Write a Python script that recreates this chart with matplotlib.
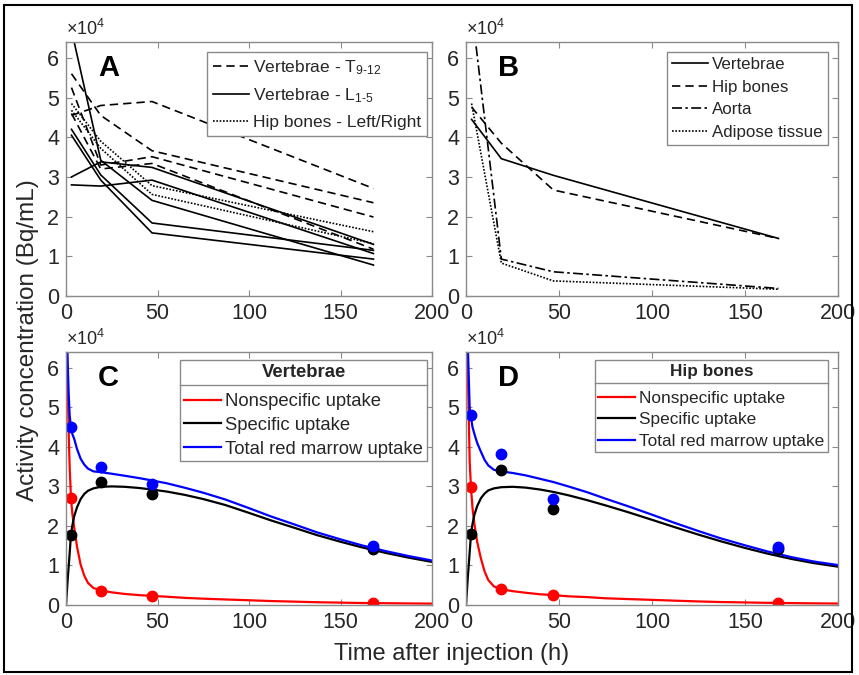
import matplotlib
matplotlib.use('Agg')
import matplotlib.pyplot as plt
from matplotlib.lines import Line2D
from matplotlib.patches import Rectangle

plt.rcParams['font.family'] = ['Liberation Sans', 'DejaVu Sans']
plt.rcParams['mathtext.fontset'] = 'custom'
plt.rcParams['mathtext.rm'] = 'Liberation Sans'
plt.rcParams['mathtext.it'] = 'Liberation Sans:italic'
plt.rcParams['mathtext.bf'] = 'Liberation Sans:bold'

# ---------------- data (activity in units of 1e4 Bq/mL) ----------------
t_meas = [3, 19, 47, 168]

# Panel A
A_T9_12 = [
    [4.55, 4.80, 4.90, 2.71],
    [5.60, 4.55, 3.66, 2.35],
    [5.25, 3.30, 3.51, 1.99],
    [4.60, 3.20, 3.34, 1.18],
]
A_L1_5 = [
    [3.00, 3.38, 3.24, 1.30],
    [2.80, 2.77, 2.92, 1.07],
    [6.70, 3.42, 2.41, 0.78],
    [4.20, 3.05, 1.84, 1.15],
    [4.05, 2.92, 1.59, 0.93],
]
A_hip = [
    [4.85, 3.90, 2.78, 1.62],
    [4.68, 3.72, 2.56, 1.32],
]
legend_A = [r'Vertebrae - T$_{\mathregular{9\text{-}12}}$',
            r'Vertebrae - L$_{\mathregular{1\text{-}5}}$',
            'Hip bones - Left/Right']

# Panel B
B_vertebrae = [4.45, 3.46, 3.04, 1.45]
B_hip = [4.76, 3.85, 2.67, 1.45]
B_aorta = [7.25, 0.93, 0.61, 0.19]
B_adipose = [4.85, 0.83, 0.38, 0.17]
legend_B = ['Vertebrae', 'Hip bones', 'Aorta', 'Adipose tissue']

# Panels C and D: fitted curves (read at these times) and measured points
t_fit = [0, 0.5, 1, 1.5, 2, 2.7, 3.5, 4.5, 6, 8, 10, 12, 15, 19, 25, 32, 40, 47,
         55, 65, 75, 87, 100, 112, 125, 137, 150, 162, 175, 187, 200]
t_pts = [2.7, 19, 47, 168]

C_nonspec = [8.5, 6.5, 5.3, 4.3, 3.5, 2.71, 2.3, 1.95, 1.48, 1.02, 0.74, 0.56, 0.43, 0.37,
             0.32, 0.28, 0.25, 0.23, 0.21, 0.18, 0.16, 0.14, 0.12, 0.10, 0.085, 0.07,
             0.06, 0.05, 0.045, 0.04, 0.035]
C_spec = [0, 0.35, 0.7, 1.0, 1.3, 1.78, 2.02, 2.25, 2.47, 2.68, 2.81, 2.89, 2.95, 2.99,
          3.0, 2.99, 2.96, 2.92, 2.87, 2.785, 2.68, 2.53, 2.33, 2.14, 1.95, 1.77, 1.6,
          1.455, 1.315, 1.2, 1.09]
C_total = [8.5, 6.85, 6.0, 5.3, 4.8, 4.49, 4.32, 4.2, 3.95, 3.7, 3.55, 3.45, 3.38, 3.36,
           3.32, 3.27, 3.21, 3.15, 3.08, 2.965, 2.84, 2.67, 2.45, 2.24, 2.035, 1.84, 1.66,
           1.505, 1.36, 1.24, 1.125]
C_pts_nonspec = [2.71, 0.36, 0.23, 0.04]
C_pts_spec = [1.78, 3.11, 2.82, 1.42]
C_pts_total = [4.50, 3.49, 3.05, 1.49]

D_nonspec = [9.0, 7.0, 5.8, 4.7, 3.6, 2.95, 2.45, 2.05, 1.6, 1.18, 0.85, 0.63, 0.47, 0.40,
             0.35, 0.31, 0.27, 0.25, 0.22, 0.20, 0.17, 0.15, 0.13, 0.11, 0.09, 0.075,
             0.065, 0.055, 0.048, 0.042, 0.037]
D_spec = [0, 0.36, 0.72, 1.03, 1.35, 1.79, 2.05, 2.28, 2.5, 2.7, 2.82, 2.9, 2.95, 2.98,
          2.99, 2.97, 2.92, 2.86, 2.776, 2.654, 2.52, 2.35, 2.155, 1.972, 1.78, 1.612, 1.443,
          1.301, 1.165, 1.06, 0.97]
D_total = [9.0, 7.36, 6.52, 5.73, 4.95, 4.74, 4.5, 4.33, 4.1, 3.88, 3.67, 3.53, 3.42, 3.38,
           3.34, 3.28, 3.19, 3.11, 3.0, 2.855, 2.69, 2.5, 2.285, 2.08, 1.87, 1.685, 1.51,
           1.355, 1.21, 1.10, 1.01]
D_pts_nonspec = [2.99, 0.40, 0.25, 0.04]
D_pts_spec = [1.79, 3.41, 2.44, 1.41]
D_pts_total = [4.80, 3.81, 2.69, 1.47]

legend_CD = ['Nonspecific uptake', 'Specific uptake', 'Total red marrow uptake']
titles_CD = ['Vertebrae', 'Hip bones']
panel_letters = ['A', 'B', 'C', 'D']

# ---------------- style ----------------
W, H = 859, 675
TXT = '#262626'
SPINE = '#8a8a8a'
TICK_FS = 15.5

fig = plt.figure(figsize=(W / 100, H / 100), dpi=100)


def px_axes(left, top, right, bottom):
    return fig.add_axes([left / W, 1 - bottom / H, (right - left) / W, (bottom - top) / H])


axA = px_axes(66, 42, 432, 296)
axB = px_axes(466, 42, 838, 296)
axC = px_axes(66, 352, 432, 605)
axD = px_axes(466, 352, 838, 605)
axes = [axA, axB, axC, axD]

for ax, letter in zip(axes, panel_letters):
    ax.set_xlim(0, 200)
    ax.set_ylim(0, 6.4)
    ax.set_xticks([0, 50, 100, 150, 200])
    ax.set_yticks(range(7))
    ax.tick_params(direction='in', length=4, width=0.8, color=SPINE, labelcolor=TXT,
                   labelsize=TICK_FS, top=True, right=True, pad=5)
    for s in ax.spines.values():
        s.set_color(SPINE)
        s.set_linewidth(1.0)
    ax.text(0.0, 1.012, '×10$^{4}$', transform=ax.transAxes, ha='left', va='bottom',
            fontsize=13, color=TXT)
    ax.text(0.087, 0.865, letter, transform=ax.transAxes, ha='left', va='baseline',
            fontsize=21, fontweight='bold', color='k')

lw_ab = 1.2
# Panel A
hA = []
for i, y in enumerate(A_T9_12):
    l, = axA.plot(t_meas, y, color='k', ls=(0, (5, 3)), lw=lw_ab)
    if i == 0:
        hA.append(l)
for i, y in enumerate(A_L1_5):
    l, = axA.plot(t_meas, y, color='k', ls='-', lw=lw_ab)
    if i == 0:
        hA.append(l)
for i, y in enumerate(A_hip):
    l, = axA.plot(t_meas, y, color='k', ls=(0, (1, 1)), lw=lw_ab)
    if i == 0:
        hA.append(l)

# Panel B
hB = []
hB.append(axB.plot(t_meas, B_vertebrae, color='k', ls='-', lw=lw_ab)[0])
hB.append(axB.plot(t_meas, B_hip, color='k', ls=(0, (5, 3)), lw=lw_ab)[0])
hB.append(axB.plot(t_meas, B_aorta, color='k', ls=(0, (6, 2, 1.5, 2)), lw=lw_ab)[0])
hB.append(axB.plot(t_meas, B_adipose, color='k', ls=(0, (1, 1)), lw=lw_ab)[0])


def make_legend(ax, handles, labels, anchor, fs, ls, hl, title=None, bp=0.2):
    kw = dict(loc='upper right', bbox_to_anchor=anchor, fancybox=False, edgecolor=SPINE,
              framealpha=1, fontsize=fs, borderpad=bp, handlelength=hl,
              handletextpad=0.23, labelspacing=ls, borderaxespad=0)
    if title is not None:
        kw['title'] = title
        kw['title_fontproperties'] = {'weight': 'bold', 'size': fs}
    leg = ax.legend(handles, labels, **kw)
    leg.get_frame().set_linewidth(1.0)
    for tx in leg.get_texts():
        tx.set_color(TXT)
    if title is not None:
        leg.get_title().set_color(TXT)
        leg._legend_box.sep = 9
    return leg


make_legend(axA, hA, legend_A, (0.986, 0.961), 12.5, 0.55, 2.07, bp=0.35)
make_legend(axB, hB, legend_B, (0.973, 0.961), 12.2, 0.45, 2.13, bp=0.3)

# Panels C, D
RED, BLK, BLU = '#ff0000', '#000000', '#0000ff'
lw_cd = 1.6
ms = 7.5
legs_cd = []
for ax, title, ns, sp, tot, pns, psp, ptot, anchor_x, fs in [
        (axC, titles_CD[0], C_nonspec, C_spec, C_total, C_pts_nonspec, C_pts_spec, C_pts_total, 0.986, 13.3),
        (axD, titles_CD[1], D_nonspec, D_spec, D_total, D_pts_nonspec, D_pts_spec, D_pts_total, 0.973, 12.4)]:
    l1, = ax.plot(t_fit, ns, color=RED, lw=lw_cd)
    l2, = ax.plot(t_fit, sp, color=BLK, lw=lw_cd)
    l3, = ax.plot(t_fit, tot, color=BLU, lw=lw_cd)
    ax.plot(t_pts, pns, 'o', color=RED, ms=ms, mec=RED)
    ax.plot(t_pts, psp, 'o', color=BLK, ms=ms, mec=BLK)
    ax.plot(t_pts, ptot, 'o', color=BLU, ms=ms, mec=BLU)
    leg = make_legend(ax, [l1, l2, l3], legend_CD, (anchor_x, 0.968), fs,
                      0.36, 37 / (fs * 100 / 72), title=title)
    legs_cd.append(leg)

# axis labels
fig.text(28 / W, 1 - 340 / H, 'Activity concentration (Bq/mL)', rotation=90,
         ha='center', va='center', fontsize=17.5, color=TXT)
fig.text(452 / W, 1 - 654 / H, 'Time after injection (h)', ha='center', va='center',
         fontsize=17, color=TXT)

# figure border
fig.add_artist(Rectangle((4 / W, 3 / H), 848 / W, 667 / H, transform=fig.transFigure,
                         fill=False, ec='k', lw=1.5))

# separator line under legend titles
fig.canvas.draw()
inv = fig.transFigure.inverted()
for leg in legs_cd:
    fb = leg.get_frame().get_window_extent()
    tb = leg.get_title().get_window_extent()
    ysep = tb.y0 - 4
    (x0, y0) = inv.transform((fb.x0, ysep))
    (x1, _) = inv.transform((fb.x1, ysep))
    fig.add_artist(Line2D([x0, x1], [y0, y0], transform=fig.transFigure, color=SPINE, lw=1.0))

fig.savefig('out.png', dpi=100)
